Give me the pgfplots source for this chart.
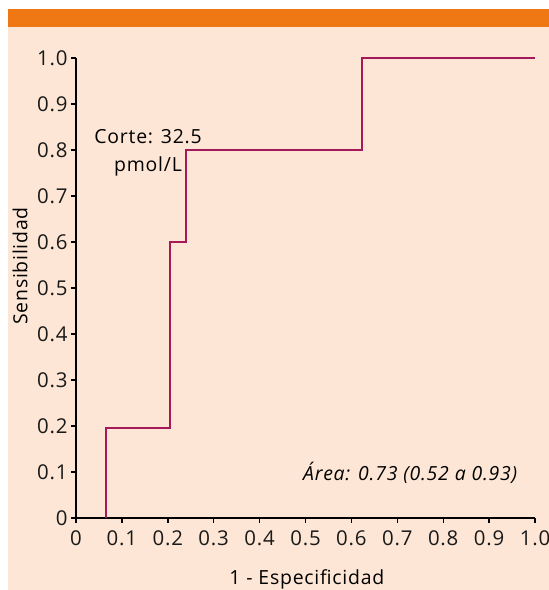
\documentclass[border=0pt]{standalone}
\usepackage{pgfplots}
\pgfplotsset{compat=1.18}
\usepackage{fontspec}
\setmainfont{Open Sans}[LetterSpace=4]
\definecolor{peach}{RGB}{253,230,213}
\definecolor{barorange}{RGB}{240,120,20}
\definecolor{roc}{RGB}{165,25,90}
\begin{document}
\begin{tikzpicture}[x=1bp,y=1bp]
\fill[white] (0,0) rectangle (549,590);
\fill[peach] (8,0) rectangle (549,563);
\fill[barorange] (8,563) rectangle (549,581);
\begin{axis}[
  at={(76bp,72bp)}, anchor=south west,
  scale only axis, width=459bp, height=460bp,
  xmin=0, xmax=1, ymin=0, ymax=1,
  axis lines=left,
  axis line style={-, line width=1.8bp, black},
  clip=false,
  xtick={0,0.1,...,1.0}, ytick={0,0.1,...,1.0},
  xticklabels={0,0.1,0.2,0.3,0.4,0.5,0.6,0.7,0.8,0.9,1.0},
  yticklabels={0,0.1,0.2,0.3,0.4,0.5,0.6,0.7,0.8,0.9,1.0},
  tick align=outside, major tick length=5bp,
  tick style={line width=1.4bp, black},
  /pgf/number format/assume math mode=true,
  tick label style={font=\fontsize{20.5}{21}\selectfont, color=black!90},
  xticklabel style={yshift=-4bp},
  yticklabel style={xshift=0bp},
  xlabel={1 - Especificidad}, ylabel={Sensibilidad},
  every axis x label/.style={at={(axis description cs:0.503,-0.133)}, anchor=center, font=\fontsize{19.5}{20}\selectfont},
  every axis y label/.style={at={(axis description cs:-0.122,0.548)}, anchor=center, rotate=90, font=\fontsize{19.5}{20}\selectfont},
]
\addplot[roc, line width=2.4bp] coordinates {
  (0.065,0) (0.065,0.195) (0.205,0.195) (0.205,0.6) (0.240,0.6)
  (0.240,0.8) (0.623,0.8) (0.623,1.0) (1.0,1.0)
};
\node[align=center, font=\fontsize{19.5}{28}\selectfont, anchor=center] at (axis cs:0.157,0.794) {Corte: 32.5\\pmol/L};
\node[font=\fontsize{19.5}{20}\selectfont\itshape, anchor=center] at (axis cs:0.728,0.098) {Área: 0.73 (0.52 a 0.93)};
\end{axis}
\pgfresetboundingbox
\useasboundingbox (0,0) rectangle (549,590);
\end{tikzpicture}
\end{document}
